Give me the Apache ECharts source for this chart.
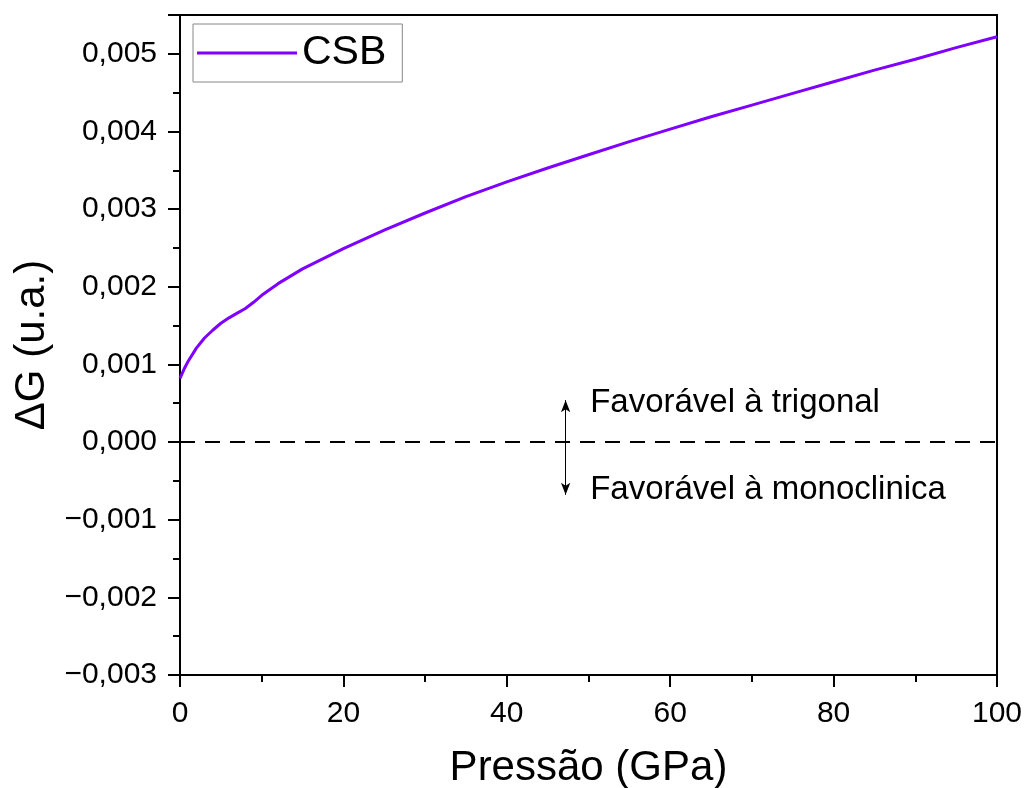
<!DOCTYPE html>
<html>
<head>
<meta charset="utf-8">
<script src="https://cdn.jsdelivr.net/npm/echarts@6/dist/echarts.min.js"></script>
<style>
html,body{margin:0;padding:0;background:#fff;}
#chart{width:1024px;height:788px;}
</style>
</head>
<body>
<div id="chart"></div>
<script>
// Data
const pressure = [0, 0.5, 1, 2, 3, 4, 5, 6, 7, 8, 9, 10, 12, 15, 20, 25, 30, 35, 40, 45, 50, 55, 60, 65, 70, 75, 80, 85, 90, 95, 100];
const deltaG = [0.00082, 0.00094, 0.00104, 0.00121, 0.00134, 0.00144, 0.00153, 0.00160, 0.00166, 0.00172, 0.00180, 0.00189, 0.00204, 0.00223, 0.00249, 0.00273, 0.00295, 0.00316, 0.00335, 0.00353, 0.00370, 0.00387, 0.00403, 0.00419, 0.00434, 0.00449, 0.00464, 0.00479, 0.00493, 0.00508, 0.00522];
const seriesName = 'CSB';
const xTicks = [0, 20, 40, 60, 80, 100];
const yTicks = [-0.003, -0.002, -0.001, 0.000, 0.001, 0.002, 0.003, 0.004, 0.005];
const annotationTexts = ['Favorável à trigonal', 'Favorável à monoclinica'];
const annotationPoints = [[50.2, 0.00050], [50.2, -0.00061]];
const arrowEnds = [[47.2, 0.00054], [47.2, -0.00068]];

const FONT = '"Liberation Sans", Arial, sans-serif';

function fmtY(v) {
  if (Math.abs(v) < 1e-9) v = 0;
  const s = Math.abs(v).toFixed(3).replace('.', ',');
  return (v < 0 ? '\u2212' : '') + s;
}

const noteLabel = {show: true, position: 'right', distance: 0, fontFamily: FONT, fontSize: 33, color: '#000', opacity: 1, textBorderWidth: 0};

const chart = echarts.init(document.getElementById('chart'), null, {renderer: 'canvas'});
chart.setOption({
  animation: false,
  backgroundColor: '#fff',
  grid: {
    left: 180, right: 27, top: 15, bottom: 113,
    outerBoundsMode: 'none', containLabel: false,
    show: true, borderColor: '#000', borderWidth: 2, backgroundColor: 'transparent'
  },
  legend: {
    left: 193, top: 24,
    data: [{name: seriesName, icon: 'rect'}],
    borderColor: '#888', borderWidth: 1,
    padding: [5, 16, 5, 4],
    itemWidth: 100, itemHeight: 3, itemGap: 12,
    textStyle: {fontFamily: FONT, fontSize: 41, color: '#000', lineHeight: 48}
  },
  xAxis: {
    type: 'value', min: xTicks[0], max: xTicks[xTicks.length - 1], interval: 20,
    name: 'Pressão (GPa)', nameLocation: 'middle', nameGap: 72,
    nameTextStyle: {fontFamily: FONT, fontSize: 42, color: '#000'},
    axisLine: {show: true, onZero: false, lineStyle: {color: '#000', width: 2}},
    axisTick: {show: true, inside: false, length: 12, lineStyle: {color: '#000', width: 2}},
    minorTick: {show: true, splitNumber: 2, length: 7, lineStyle: {color: '#000', width: 2}},
    splitLine: {show: false},
    axisLabel: {fontFamily: FONT, fontSize: 30, color: '#000', margin: 24}
  },
  yAxis: {
    type: 'value', min: yTicks[0], max: 0.0055, interval: 0.001,
    name: 'ΔG (u.a.)', nameLocation: 'middle', nameGap: 110, nameRotate: 90,
    nameTextStyle: {fontFamily: FONT, fontSize: 42, color: '#000'},
    axisLine: {show: true, onZero: false, lineStyle: {color: '#000', width: 2}},
    axisTick: {show: true, inside: false, length: 12, lineStyle: {color: '#000', width: 2}},
    minorTick: {show: true, splitNumber: 2, length: 7, lineStyle: {color: '#000', width: 2}},
    splitLine: {show: false},
    axisLabel: {
      fontFamily: FONT, fontSize: 30, color: '#000', margin: 23, showMaxLabel: false,
      formatter: function (v) {
        const r = Math.round(v * 1000) / 1000;
        if (Math.abs(v - r) > 1e-7) return '';
        return fmtY(r);
      }
    }
  },
  series: [
    {
      name: seriesName, type: 'line',
      data: pressure.map((p, i) => [p, deltaG[i]]),
      symbol: 'none', showSymbol: false, smooth: false,
      lineStyle: {color: '#7f00ff', width: 3},
      itemStyle: {color: '#7f00ff'},
      z: 5,
      markLine: {
        silent: true, symbol: ['none', 'none'],
        label: {show: false},
        lineStyle: {color: '#000', type: [15, 10], width: 2},
        data: [{yAxis: 0}]
      }
    },
    {
      name: 'arrow', type: 'line', data: [], silent: true,
      markLine: {
        silent: true, symbol: ['arrow', 'arrow'], symbolSize: [7, 12],
        label: {show: false},
        lineStyle: {color: '#000', type: 'solid', width: 1},
        data: [[{coord: arrowEnds[0]}, {coord: arrowEnds[1]}]]
      }
    },
    {
      name: 'notes', type: 'scatter', silent: true,
      symbolSize: 0,
      itemStyle: {color: '#000', opacity: 1},
      data: annotationPoints.map((pt, i) => ({value: pt, label: Object.assign({}, noteLabel, {formatter: annotationTexts[i]})})),
      label: noteLabel
    }
  ]
});
</script>
</body>
</html>
